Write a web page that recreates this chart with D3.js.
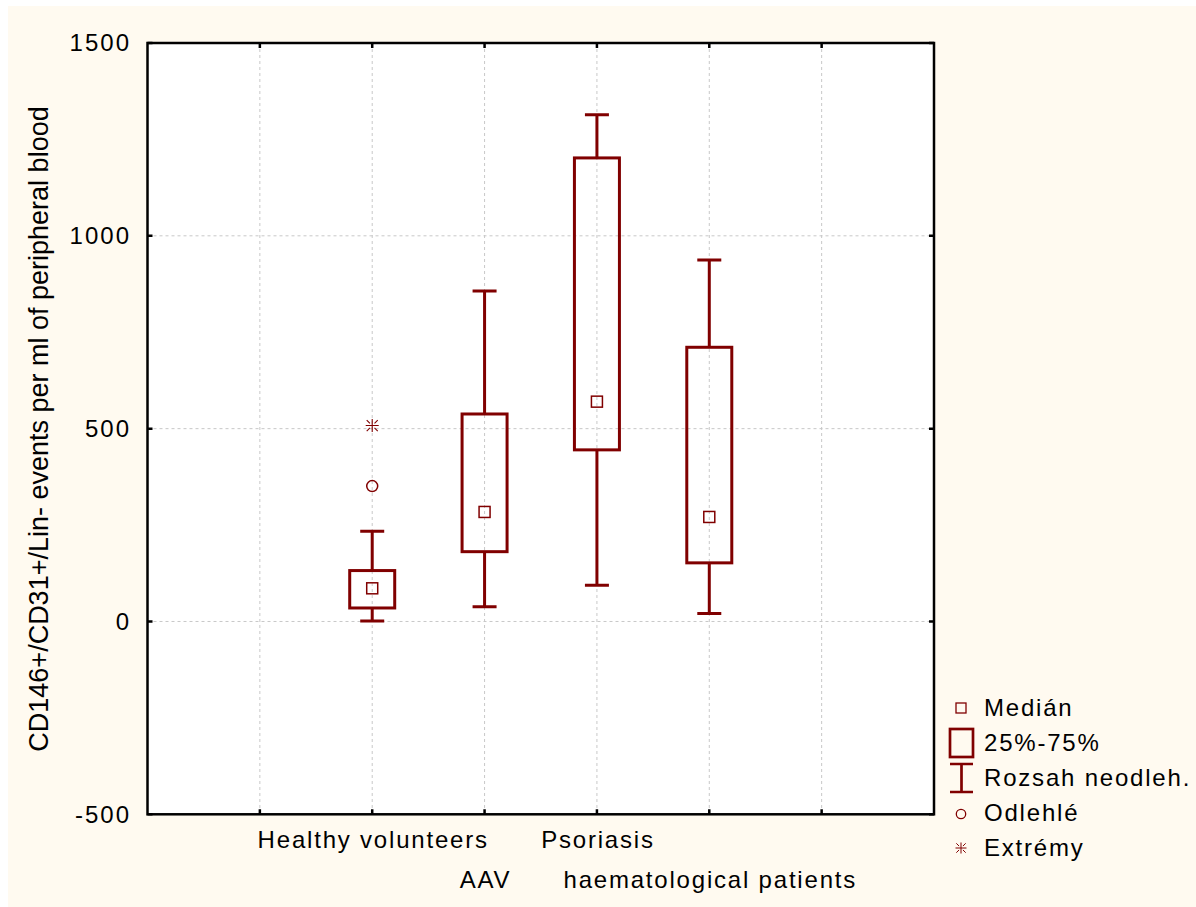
<!DOCTYPE html>
<html>
<head>
<meta charset="utf-8">
<script src="https://cdn.jsdelivr.net/npm/d3@7"></script>
<style>
  body { margin: 0; background: #fff; }
  text { font-family: "Liberation Sans", Arial, sans-serif; fill: #000; }
</style>
</head>
<body>
<div id="chart"></div>
<script>
// data
var categories = ["Healthy volunteers", "AAV", "Psoriasis", "haematological patients"];
var whiskerLow  = [1, 38, 94, 21];
var quartile1   = [35, 181, 445, 152];
var medians     = [86, 284, 570, 271];
var quartile3   = [132, 538, 1202, 711];
var whiskerHigh = [234, 857, 1314, 937];
var outliers = [{cat: "Healthy volunteers", value: 351}];
var extremes = [{cat: "Healthy volunteers", value: 508}];
var yTicks = [-500, 0, 500, 1000, 1500];
var legendItems = ["Medián", "25%-75%", "Rozsah neodleh.", "Odlehlé", "Extrémy"];
var yTitle = "CD146+/CD31+/Lin- events per ml of peripheral blood";

var W = 1196, H = 907,
    plot = {left: 147.5, right: 934, top: 43, bottom: 814.3},
    red = "#800000";

var svg = d3.select("#chart").append("svg").attr("width", W).attr("height", H);

svg.append("rect").attr("x", 8).attr("y", 6).attr("width", W - 8).attr("height", H - 6).attr("fill", "#fffaf0");
svg.append("rect").attr("x", plot.left).attr("y", plot.top)
    .attr("width", plot.right - plot.left).attr("height", plot.bottom - plot.top).attr("fill", "#fff");

var x = d3.scalePoint().domain(categories).range([plot.left, plot.right]).padding(2);
var y = d3.scaleLinear().domain([-500, 1500]).range([plot.bottom, plot.top]);
var step = x.step();
var slots = d3.range(1, 7).map(function(k) { return plot.left + k * step; });

// grid
var grid = svg.append("g").attr("stroke", "#c8c8c8").attr("stroke-width", 1).attr("stroke-dasharray", "3,3");
grid.selectAll(".gx").data(slots).enter().append("line")
    .attr("x1", function(d) { return d; }).attr("x2", function(d) { return d; })
    .attr("y1", plot.top).attr("y2", plot.bottom);
grid.selectAll(".gy").data(yTicks.filter(function(d) { return d > -500 && d < 1500; })).enter().append("line")
    .attr("x1", plot.left).attr("x2", plot.right)
    .attr("y1", function(d) { return y(d); }).attr("y2", function(d) { return y(d); });

// boxes
var idx = d3.range(categories.length);
var g = svg.append("g").attr("stroke", red).attr("fill", "none");
var boxW = 45, capW = 24;

g.selectAll(".whisker").data(idx).enter().append("path")
    .attr("stroke-width", 3)
    .attr("d", function(i) {
      var cx = x(categories[i]);
      return "M" + cx + "," + y(whiskerHigh[i]) + "V" + y(quartile3[i]) +
             "M" + cx + "," + y(quartile1[i]) + "V" + y(whiskerLow[i]) +
             "M" + (cx - capW / 2) + "," + y(whiskerHigh[i]) + "h" + capW +
             "M" + (cx - capW / 2) + "," + y(whiskerLow[i]) + "h" + capW;
    });

g.selectAll(".box").data(idx).enter().append("rect")
    .attr("stroke-width", 3)
    .attr("x", function(i) { return x(categories[i]) - boxW / 2; })
    .attr("y", function(i) { return y(quartile3[i]); })
    .attr("width", boxW)
    .attr("height", function(i) { return y(quartile1[i]) - y(quartile3[i]); });

g.selectAll(".median").data(idx).enter().append("rect")
    .attr("stroke-width", 1.5)
    .attr("x", function(i) { return x(categories[i]) - 5.5; })
    .attr("y", function(i) { return y(medians[i]) - 5.5; })
    .attr("width", 11).attr("height", 11);

g.selectAll(".outlier").data(outliers).enter().append("circle")
    .attr("stroke-width", 1.5)
    .attr("cx", function(d) { return x(d.cat); })
    .attr("cy", function(d) { return y(d.value); })
    .attr("r", 5.5);

function star(cx, cy, r) {
  var s = "M" + (cx - r) + "," + cy + "h" + (2 * r) + "M" + cx + "," + (cy - r) + "v" + (2 * r);
  var a = r * 0.85, b = r * 0.35;
  [[1, 1], [1, -1], [-1, 1], [-1, -1]].forEach(function(q) {
    s += "M" + (cx + q[0] * b) + "," + (cy + q[1] * b) + "L" + (cx + q[0] * a) + "," + (cy + q[1] * a);
  });
  return s;
}
g.selectAll(".extreme").data(extremes).enter().append("path")
    .attr("stroke-width", 1.1)
    .attr("d", function(d) { return star(x(d.cat), y(d.value), 6.5); });

// frame and ticks (all pointing inwards)
var frame = svg.append("g").attr("stroke", "#000").attr("stroke-width", 2.5).attr("fill", "none");
frame.append("rect").attr("x", plot.left).attr("y", plot.top)
    .attr("width", plot.right - plot.left).attr("height", plot.bottom - plot.top);
frame.selectAll(".tl").data(yTicks).enter().append("path")
    .attr("d", function(d) { return "M" + plot.left + "," + y(d) + "h5M" + plot.right + "," + y(d) + "h-5"; });
frame.selectAll(".tt").data(slots).enter().append("path")
    .attr("d", function(d) { return "M" + d + "," + plot.top + "v5M" + d + "," + plot.bottom + "v-5"; });

// y tick labels
svg.selectAll(".ylab").data(yTicks).enter().append("text")
    .attr("x", 131).attr("y", function(d) { return y(d); })
    .attr("dy", "0.35em").attr("text-anchor", "end")
    .attr("font-size", 24).attr("letter-spacing", 2)
    .text(function(d) { return d; });

// category labels, staggered on two rows
svg.selectAll(".xlab").data(categories).enter().append("text")
    .attr("x", function(d) { return x(d) + 1; })
    .attr("y", function(d, i) { return i % 2 === 0 ? 848 : 888; })
    .attr("text-anchor", "middle").attr("font-size", 24).attr("letter-spacing", 1.8)
    .text(function(d) { return d; });

// y title
svg.append("text")
    .attr("transform", "translate(48,429) rotate(-90)")
    .attr("text-anchor", "middle").attr("font-size", 27)
    .text(yTitle);

// legend
var leg = svg.append("g").attr("transform", "translate(961,0)");
var rowY = d3.scalePoint().domain(legendItems).range([708, 848]);
leg.selectAll(".lt").data(legendItems).enter().append("text")
    .attr("x", 23).attr("y", function(d) { return rowY(d); })
    .attr("dy", "0.35em").attr("font-size", 24).attr("letter-spacing", 1.8)
    .text(function(d) { return d; });
var ls = leg.append("g").attr("stroke", red).attr("fill", "none");
ls.append("rect").attr("x", -5).attr("y", rowY("Medián") - 5).attr("width", 10).attr("height", 10).attr("stroke-width", 1.3);
ls.append("rect").attr("x", -11).attr("y", rowY("25%-75%") - 14).attr("width", 23).attr("height", 28).attr("stroke-width", 2.7);
ls.append("path").attr("stroke-width", 2.7)
    .attr("d", "M-11," + (rowY("Rozsah neodleh.") - 14) + "h23M-11," + (rowY("Rozsah neodleh.") + 14) + "h23M0.5," +
      (rowY("Rozsah neodleh.") - 14) + "v28");
ls.append("circle").attr("cx", 0).attr("cy", rowY("Odlehlé") + 1).attr("r", 4.7).attr("stroke-width", 1.3);
ls.append("path").attr("stroke-width", 1).attr("d", star(0, rowY("Extrémy"), 5.5));
</script>
</body>
</html>
